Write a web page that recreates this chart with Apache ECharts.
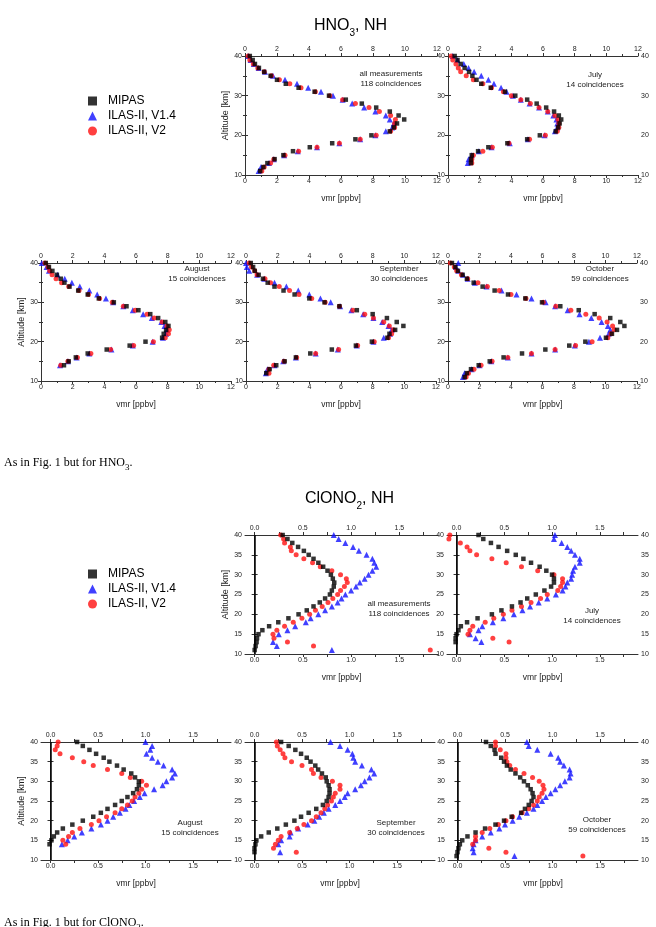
<!DOCTYPE html>
<html>
<head>
<meta charset="utf-8">
<script src="https://cdn.jsdelivr.net/npm/echarts@6/dist/echarts.min.js"></script>
<style>
  html, body { margin: 0; padding: 0; background: #fff; }
  #main { width: 656px; height: 927px; }
</style>
</head>
<body>
<div id="main"></div>
<script>
// altitude levels (km), top down
const alt11 = [40,39,38,37,36,35,34,33,32,31,30,29,28,27,26,25,24,23,22,21,20,19,18,17,16,15,14,13,12,11];
const alt12 = [40,39,38,37,36,35,34,33,32,31,30,29,28,27,26,25,24,23,22,21,20,19,18,17,16,15,14,13,12];
const alt13 = [40,39,38,37,36,35,34,33,32,31,30,29,28,27,26,25,24,23,22,21,20,19,18,17,16,15,14,13];
const alt14 = [40,39,38,37,36,35,34,33,32,31,30,29,28,27,26,25,24,23,22,21,20,19,18,17,16,15,14];

// HNO3 [ppbv]
const hno3AllMipas = [0.3,0.48,0.62,0.87,1.2,1.6,2.0,2.55,3.35,4.35,5.25,6.3,7.3,8.2,9.05,9.6,9.95,9.5,9.3,9.05,7.9,6.9,5.45,4.05,3.0,2.4,1.85,1.4,1.15,0.95];
const hno3AllV14  = [0.2,0.35,0.55,0.85,1.25,1.75,2.5,3.25,3.95,4.75,5.5,6.1,6.7,7.45,8.15,8.8,9.05,9.3,9.2,8.8,8.15,7.2,5.9,4.5,3.3,2.45,1.8,1.5,1.0,0.85];
const hno3AllV2   = [0.2,0.3,0.52,0.8,1.2,1.65,2.15,2.8,3.5,4.4,5.3,6.1,6.9,7.75,8.4,9.1,9.4,9.35,9.35,9.1,8.2,7.2,5.9,4.5,3.35,2.5,1.8,1.6,1.2,1.05];

const hno3JulMipas = [0.42,0.6,0.8,1.05,1.33,1.54,1.8,2.1,2.7,3.6,4.25,5.0,5.6,6.2,6.7,7.0,7.15,7.05,6.95,6.8,5.8,5.0,3.75,2.55,1.9,1.5,1.45,1.45];
const hno3JulV14  = [0.3,0.6,1.0,1.3,1.65,2.1,2.55,2.9,3.35,3.7,4.1,4.6,5.15,5.75,6.3,6.65,6.85,6.9,6.9,6.75,6.1,5.05,3.9,2.75,1.95,1.5,1.3,1.25];
const hno3JulV2   = [0.2,0.3,0.5,0.65,0.8,1.15,1.6,2.2,2.75,3.5,4.0,4.6,5.2,5.75,6.3,6.75,6.95,7.0,7.0,6.9,6.15,5.15,3.85,2.8,2.2,1.6,1.5,1.5];

const hno3AugMipas = [0.3,0.5,0.72,1.0,1.25,1.48,1.8,2.35,2.95,3.65,4.6,5.4,6.15,6.9,7.4,7.85,8.05,7.9,7.75,7.65,6.6,5.6,4.15,2.95,2.2,1.75,1.45];
const hno3AugV14  = [0.05,0.35,0.5,1.05,1.5,1.95,2.45,3.05,3.55,4.1,4.55,5.2,5.8,6.45,7.0,7.6,7.8,7.95,7.9,7.7,7.05,5.8,4.45,3.05,2.25,1.7,1.2];
const hno3AugV2   = [0.25,0.45,0.55,0.7,0.95,1.3,1.75,2.4,3.0,3.7,4.5,5.2,5.95,6.7,7.15,7.65,7.95,8.1,8.05,7.85,7.1,5.85,4.4,3.15,2.3,1.7,1.25];

const hno3SepMipas = [0.3,0.45,0.55,0.8,1.07,1.37,1.8,2.37,3.07,4.0,4.96,5.9,7.0,8.0,8.9,9.52,9.94,9.42,9.06,8.93,7.95,6.94,5.42,4.06,3.15,2.44,1.91,1.49,1.28];
const hno3SepV14  = [0.0,0.05,0.2,0.7,1.15,1.8,2.55,3.3,4.0,4.7,5.35,5.95,6.65,7.4,8.05,8.6,9.0,9.2,9.1,8.7,8.05,7.0,5.8,4.4,3.15,2.35,1.8,1.35,1.25];
const hno3SepV2   = [0.2,0.35,0.55,0.7,1.2,1.55,2.1,2.75,3.35,4.15,5.0,5.9,6.75,7.5,8.05,8.7,9.05,9.3,9.2,9.0,8.1,7.05,5.85,4.4,3.2,2.4,1.75,1.45,1.45];

const hno3OctMipas = [0.25,0.47,0.63,0.93,1.2,1.63,2.2,2.96,3.81,4.91,5.97,7.13,8.3,9.31,10.3,10.94,11.2,10.73,10.41,10.03,8.72,7.7,6.18,4.7,3.53,2.65,1.95,1.46,1.2,1.06];
const hno3OctV14  = [0.65,0.5,0.65,0.95,1.25,1.7,2.45,3.4,4.35,5.3,6.2,6.8,7.6,8.35,9.1,9.75,10.15,10.3,10.2,9.65,8.95,8.05,6.8,5.3,3.8,2.75,2.0,1.5,1.05,0.95];
const hno3OctV2   = [0.15,0.4,0.55,0.85,1.25,1.9,2.5,3.25,4.0,4.95,6.05,6.85,7.8,8.75,9.6,10.1,10.45,10.55,10.35,10.15,9.15,8.1,6.8,5.3,3.8,2.8,2.1,1.65,1.3,1.15];

// ClONO2 [ppbv]
const cnAllMipas = [0.29,0.34,0.39,0.45,0.51,0.56,0.61,0.66,0.71,0.755,0.79,0.81,0.825,0.82,0.8,0.78,0.73,0.675,0.61,0.54,0.455,0.35,0.245,0.15,0.08,0.04,0.025,0.02,0.01,0.0];
const cnAllV14  = [0.82,0.87,0.94,1.02,1.08,1.16,1.22,1.24,1.26,1.22,1.18,1.14,1.09,1.05,1.0,0.94,0.9,0.86,0.8,0.73,0.66,0.58,0.53,0.42,0.34,0.25,null,0.19,0.23,0.8];
const cnAllV2   = [0.27,0.3,0.31,0.37,0.38,0.43,0.51,0.6,0.68,0.8,0.89,0.95,0.96,0.93,0.89,0.86,0.81,0.76,0.7,0.63,0.57,0.49,0.4,0.31,0.23,0.19,0.2,0.34,0.61,1.82];

const cnJulMipas = [0.23,0.28,0.36,0.44,0.53,0.62,0.7,0.78,0.87,0.94,1.0,1.02,1.02,0.99,0.92,0.83,0.74,0.67,0.58,0.47,0.37,0.22,0.11,0.045,0.02,0.0,-0.01,-0.01];
const cnJulV14  = [1.03,1.02,1.1,1.16,1.2,1.24,1.29,1.29,1.24,1.22,1.21,1.2,1.16,1.14,1.11,1.04,0.95,0.86,0.77,0.69,0.6,0.49,0.38,0.27,0.23,0.14,0.2,0.26];
const cnJulV2   = [-0.07,-0.08,0.04,0.11,0.14,0.21,0.37,0.52,0.68,0.85,1.02,1.11,1.11,1.09,1.06,0.95,0.88,0.78,0.68,0.58,0.49,0.39,0.3,0.17,0.14,0.12,0.38,0.55];

const cnAugMipas = [0.28,0.34,0.41,0.48,0.56,0.62,0.7,0.77,0.85,0.89,0.93,0.93,0.91,0.87,0.81,0.75,0.68,0.6,0.53,0.45,0.34,0.23,0.13,0.07,0.035,0.01,-0.01];
const cnAugV14  = [1.0,1.07,1.05,1.01,1.07,1.13,1.19,1.28,1.31,1.28,1.22,1.18,1.09,0.99,0.94,0.88,0.83,0.79,0.73,0.66,0.6,0.53,0.43,0.33,0.25,0.18,0.12];
const cnAugV2   = [0.08,0.07,0.05,0.1,0.23,0.35,0.45,0.6,0.75,0.84,0.96,1.01,0.96,0.93,0.89,0.86,0.81,0.75,0.68,0.59,0.51,0.43,0.31,0.23,0.19,0.13,0.16];

const cnSepMipas = [0.28,0.36,0.43,0.49,0.55,0.59,0.64,0.67,0.71,0.75,0.76,0.78,0.79,0.79,0.78,0.76,0.72,0.65,0.57,0.49,0.42,0.33,0.24,0.15,0.07,0.02,0.01,0.0,0.0];
const cnSepV14  = [0.8,0.9,0.98,1.03,1.04,1.06,1.13,1.23,1.26,1.21,1.16,1.12,1.06,0.98,0.95,0.9,0.85,0.78,0.73,0.68,0.63,0.56,0.46,0.38,0.37,0.28,0.25,null,0.27];
const cnSepV2   = [0.23,0.24,0.27,0.3,0.32,0.39,0.5,0.6,0.62,0.7,0.82,0.9,0.9,0.85,0.83,0.81,0.77,0.74,0.7,0.65,0.6,0.52,0.45,0.37,0.28,0.25,0.22,0.2,0.44];

const cnOctMipas = [0.3,0.35,0.39,0.4,0.46,0.49,0.52,0.56,0.61,0.66,0.7,0.74,0.77,0.79,0.8,0.78,0.75,0.71,0.67,0.57,0.49,0.4,0.29,0.19,0.105,0.05,0.025,0.01,0.0,-0.01];
const cnOctV14  = [0.73,0.75,0.84,0.98,1.06,1.08,1.12,1.18,1.19,1.18,1.13,1.08,1.03,0.98,0.93,0.89,0.84,0.8,0.73,0.65,0.58,0.5,0.44,0.35,0.26,0.19,0.17,0.16,0.17,0.6];
const cnOctV2   = [0.4,0.4,0.45,0.51,0.51,0.52,0.55,0.61,0.7,0.79,0.86,0.9,0.91,0.89,0.86,0.84,0.8,0.75,0.68,0.58,0.51,0.43,0.34,0.26,0.19,0.19,0.16,0.33,0.51,1.32];

// tick values
const cnLabelVals = [0, 0.5, 1, 1.5];
const cnTickVals = [0, 0.25, 0.5, 0.75, 1, 1.25, 1.5, 1.75];

const seriesNames = ['MIPAS', 'ILAS-II, V1.4', 'ILAS-II, V2'];
const panelNotes = [
  ['all measurements', '118 coincidences'], ['July', '14 coincidences'],
  ['August', '15 coincidences'], ['September', '30 coincidences'], ['October', '59 coincidences'],
  ['all measurements', '118 coincidences'], ['July', '14 coincidences'],
  ['August', '15 coincidences'], ['September', '30 coincidences'], ['October', '59 coincidences']
];

const FONT = 'Liberation Sans, Arial, sans-serif';
const SERIF = 'Liberation Serif, Times New Roman, serif';

// layout of the 10 panels (nb = has a neighbour on the right)
var panels = [
  {kind:'h', left:245, top:56,  w:192, h:119, alt:alt11, d:[hno3AllMipas,hno3AllV14,hno3AllV2], yName:true,  nb:true,  note:[391,79]},
  {kind:'h', left:448, top:56,  w:190, h:119, alt:alt13, d:[hno3JulMipas,hno3JulV14,hno3JulV2], yName:false, nb:false, note:[595,80]},
  {kind:'h', left:41,  top:263, w:190, h:118, alt:alt14, d:[hno3AugMipas,hno3AugV14,hno3AugV2], yName:true,  nb:true,  note:[197,274]},
  {kind:'h', left:246, top:263, w:190, h:118, alt:alt12, d:[hno3SepMipas,hno3SepV14,hno3SepV2], yName:false, nb:true,  note:[399,274]},
  {kind:'h', left:448, top:263, w:189, h:118, alt:alt11, d:[hno3OctMipas,hno3OctV14,hno3OctV2], yName:false, nb:false, note:[600,274]},
  {kind:'c', left:245, top:535, w:193, h:119, alt:alt11, d:[cnAllMipas,cnAllV14,cnAllV2], yName:true,  nb:true,  note:[399,609]},
  {kind:'c', left:447, top:535, w:191, h:119, alt:alt13, d:[cnJulMipas,cnJulV14,cnJulV2], yName:false, nb:false, note:[592,616]},
  {kind:'c', left:41,  top:742, w:190, h:118, alt:alt14, d:[cnAugMipas,cnAugV14,cnAugV2], yName:true,  nb:true,  note:[190,828]},
  {kind:'c', left:245, top:742, w:190, h:118, alt:alt12, d:[cnSepMipas,cnSepV14,cnSepV2], yName:false, nb:true,  note:[396,828]},
  {kind:'c', left:448, top:742, w:190, h:118, alt:alt11, d:[cnOctMipas,cnOctV14,cnOctV2], yName:false, nb:false, note:[597,825]}
];

var styles = [
  {symbol:'rect', size:4.5, color:'#000000', z:4},
  {symbol:'triangle', size:6, color:'#1010ff', z:2},
  {symbol:'circle', size:5, color:'#ff1010', z:3}
];

var axisLine = {show:true, lineStyle:{color:'#333', width:1}};
var tickLabel = {fontSize:7, color:'#222', fontFamily:FONT, margin:3};

var grid = [], xAxis = [], yAxis = [], series = [], graphic = [];

panels.forEach(function(p, i){
  grid.push({left:p.left, top:p.top, width:p.w, height:p.h});
  var isH = p.kind === 'h';
  var xb = {
    gridIndex:i, type:'value', min: isH ? 0 : -0.1, max: isH ? 12 : 1.9,
    axisLine:axisLine, splitLine:{show:false}
  };
  if (isH) {
    xb.interval = 2;
    xb.axisTick = {show:true, length:3, lineStyle:{color:'#333'}};
    xb.minorTick = {show:true, splitNumber:2, length:2, lineStyle:{color:'#333'}};
    xb.axisLabel = Object.assign({}, tickLabel, {showMinLabel:true, showMaxLabel:true});
  } else {
    xb.axisTick = {show:true, length:3, customValues:cnTickVals, lineStyle:{color:'#333'}};
    xb.axisLabel = Object.assign({}, tickLabel, {customValues:cnLabelVals, formatter:function(v){ return v.toFixed(1); }});
  }
  xAxis.push(Object.assign({}, xb, {
    position:'bottom', name:'vmr [ppbv]', nameLocation:'middle', nameGap:19,
    nameTextStyle:{fontSize:8.5, color:'#222', fontFamily:FONT}
  }));
  xAxis.push(Object.assign({}, xb, {position:'top'}));

  var yb = {
    gridIndex:i, type:'value', min:10, max:40, interval: isH ? 10 : 5,
    axisLine:axisLine, splitLine:{show:false},
    axisTick:{show:true, length:3, lineStyle:{color:'#333'}},
    minorTick:{show:isH, splitNumber:2, length:2, lineStyle:{color:'#333'}},
    axisLabel:tickLabel
  };
  var yl = Object.assign({}, yb, {position:'left'});
  if (p.yName) {
    yl.name = 'Altitude [km]';
    yl.nameLocation = 'middle';
    yl.nameGap = 13;
    yl.nameTextStyle = {fontSize:9, color:'#222', fontFamily:FONT};
  }
  yAxis.push(yl);
  var yr = Object.assign({}, yb, {position:'right'});
  if (p.nb) yr.axisLabel = Object.assign({}, tickLabel, {show:false});
  yAxis.push(yr);

  [1, 2, 0].forEach(function(k){
    var vals = p.d[k];
    var pts = [];
    p.alt.forEach(function(a, j){ if (vals[j] != null) pts.push([vals[j], a]); });
    var s = {
      type:'scatter', name:seriesNames[k], xAxisIndex:2*i, yAxisIndex:2*i,
      symbol:styles[k].symbol, symbolSize:styles[k].size, z:styles[k].z,
      itemStyle:{color:styles[k].color}, data:pts, silent:true
    };
    if (k === 0 && !isH) {
      s.markLine = {
        silent:true, symbol:'none', label:{show:false},
        lineStyle:{color:'#000', width:1.5, type:'solid'},
        data:[{xAxis:0}]
      };
    }
    series.push(s);
  });

  graphic.push({
    type:'text', x:p.note[0], y:p.note[1],
    style:{text:panelNotes[i].join('\n'), lineHeight:10, fill:'#222',
           font:'8px ' + FONT, textAlign:'center', textVerticalAlign:'middle'}
  });
});

function captionRich(){
  return {
    a:{fontSize:12, fontFamily:SERIF, fill:'#000', verticalAlign:'bottom', lineHeight:14},
    s:{fontSize:9, fontFamily:SERIF, fill:'#000', verticalAlign:'bottom', lineHeight:14, padding:[0,0,-3,0]}
  };
}
graphic.push({
  type:'text', x:4, y:455,
  style:{text:'{a|As in Fig. 1 but for HNO}{s|3}{a|.}', rich:captionRich()}
});
graphic.push({
  type:'text', x:4, y:915,
  style:{text:'{a|As in Fig. 1 but for ClONO}{s|2}{a|.}', rich:captionRich()}
});

var titleRich = {
  a:{fontSize:16, fontWeight:'normal', fontFamily:FONT, color:'#000', lineHeight:20, verticalAlign:'bottom'},
  s:{fontSize:10, fontWeight:'normal', fontFamily:FONT, color:'#000', lineHeight:20, verticalAlign:'bottom', padding:[0,0,-4,0]}
};

var legendItems = [
  {name:'MIPAS', icon:'rect'},
  {name:'ILAS-II, V1.4', icon:'triangle'},
  {name:'ILAS-II, V2', icon:'circle'}
];
var legendBase = {
  orient:'vertical', left:83, itemWidth:9, itemHeight:9, itemGap:3,
  data:legendItems, selectedMode:false,
  textStyle:{fontSize:12, color:'#000', fontFamily:FONT, padding:[0,0,0,6]}
};

var chart = echarts.init(document.getElementById('main'), null, {renderer:'canvas'});
chart.setOption({
  animation:false,
  backgroundColor:'#fff',
  title:[
    {text:'{a|HNO}{s|3}{a|, NH}', left:309, top:9, textStyle:{fontWeight:'normal', rich:titleRich}},
    {text:'{a|ClONO}{s|2}{a|, NH}', left:300, top:482, textStyle:{fontWeight:'normal', rich:titleRich}}
  ],
  legend:[
    Object.assign({}, legendBase, {top:90}),
    Object.assign({}, legendBase, {top:563})
  ],
  grid:grid, xAxis:xAxis, yAxis:yAxis, series:series, graphic:graphic
});
</script>
</body>
</html>
